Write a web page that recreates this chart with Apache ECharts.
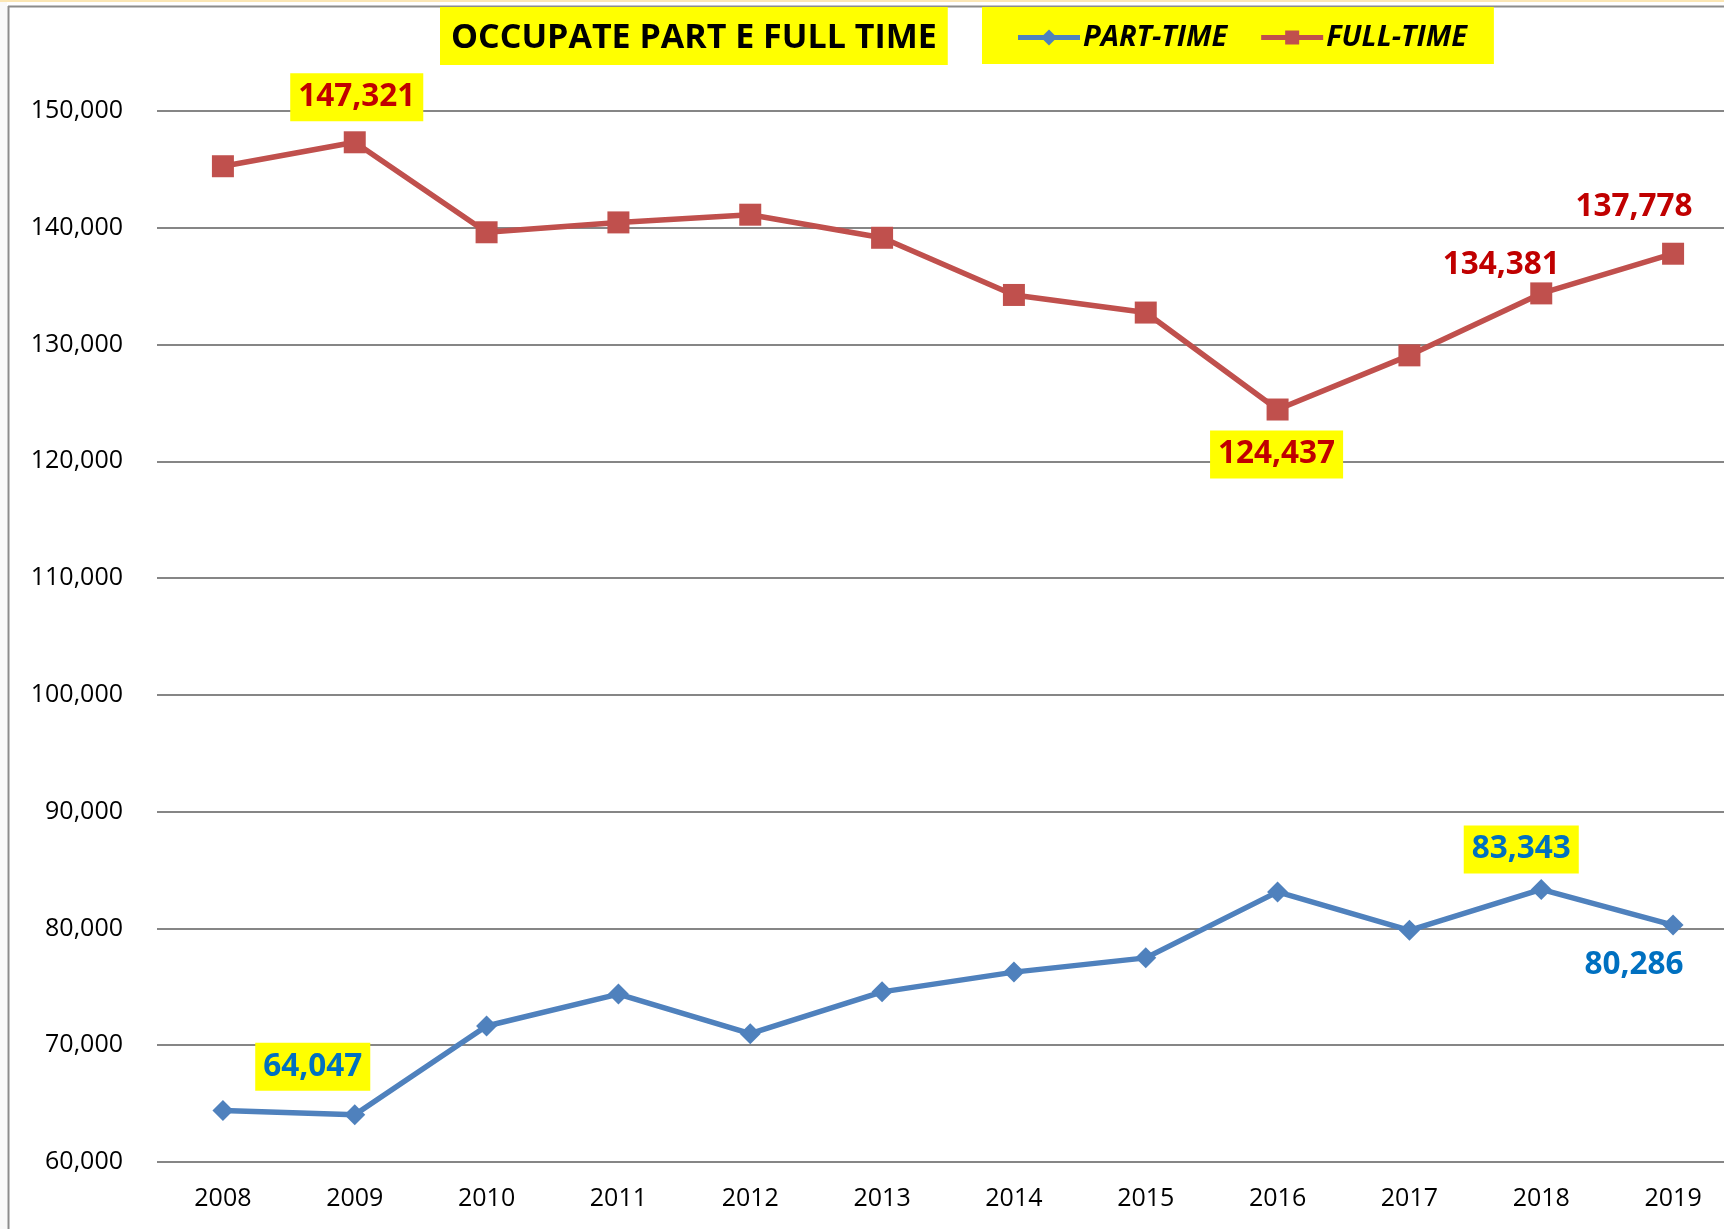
<!DOCTYPE html>
<html>
<head>
<meta charset="utf-8">
<title>Occupate part e full time</title>
<script src="https://cdn.jsdelivr.net/npm/echarts@6/dist/echarts.min.js"></script>
<style>
  html, body { margin: 0; padding: 0; background: #ffffff; }
  #chart { width: 1724px; height: 1229px; }
</style>
</head>
<body>
<div id="chart"></div>
<script>
// Years on the category axis
const years = ['2008', '2009', '2010', '2011', '2012', '2013', '2014', '2015', '2016', '2017', '2018', '2019'];

// Employed people, part-time and full-time
const partTime = [64400, 64047, 71650, 74380, 70990, 74570, 76260, 77480, 83130, 79840, 83343, 80286];
const fullTime = [145270, 147321, 139615, 140460, 141120, 139144, 134247, 132740, 124437, 129075, 134381, 137778];

// Y axis range and step
const yMin = 60000;
const yMax = 150000;
const yStep = 10000;

const FONT = '"Open Sans", "Noto Sans", sans-serif';
const fmt = v => Math.round(v).toLocaleString('en-US');

// Legend keys: a thick line with the series marker in the middle
const ICON_PART = 'path://M0 5.5L62 5.5L62 10.5L0 10.5Z M31 0L39 8L31 16L23 8Z';
const ICON_FULL = 'path://M0 5.5L62 5.5L62 10.5L0 10.5Z M24 1L38 1L38 15L24 15Z';

// Which points carry a value label, and how each label is placed
const ptLabels = {
  1: { offset: [-42, -48], boxed: true },
  10: { offset: [-20, -40], boxed: true },
  11: { offset: [-39, 40], boxed: false }
};
const ftLabels = {
  1: { offset: [2, -45], boxed: true },
  8: { offset: [-1, 45], boxed: true },
  10: { offset: [-40, -28], boxed: false },
  11: { offset: [-39, -47], boxed: false }
};

function buildData(values, labels, color) {
  return values.map((v, i) => {
    const cfg = labels[i];
    if (!cfg) return v;
    return {
      value: v,
      label: {
        show: true,
        position: 'inside',
        offset: cfg.offset,
        formatter: p => fmt(p.value),
        color: color,
        fontFamily: FONT,
        fontWeight: 'bold',
        fontSize: 31.5,
        lineHeight: 33,
        backgroundColor: cfg.boxed ? '#FFFF00' : 'transparent',
        padding: cfg.boxed ? [8, 8, 7, 8] : 0
      }
    };
  });
}

const chart = echarts.init(document.getElementById('chart'), null, { renderer: 'canvas' });

chart.setOption({
  backgroundColor: '#ffffff',
  animation: false,
  title: {
    text: 'OCCUPATE PART E FULL TIME',
    left: 440,
    top: 7,
    backgroundColor: '#FFFF00',
    padding: [11, 11, 6, 11],
    textStyle: {
      fontFamily: FONT,
      fontWeight: 'bold',
      fontSize: 34,
      lineHeight: 41,
      color: '#000000'
    }
  },
  legend: {
    data: [
      { name: 'PART-TIME', icon: ICON_PART, itemStyle: { color: '#4F81BD' } },
      { name: 'FULL-TIME', icon: ICON_FULL, itemStyle: { color: '#C0504D' } }
    ],
    left: 982,
    top: 7,
    backgroundColor: '#FFFF00',
    padding: [16, 27, 12, 36],
    itemWidth: 62,
    itemHeight: 16,
    itemGap: 34,
    textStyle: {
      fontFamily: FONT,
      fontWeight: 'bold',
      fontStyle: 'italic',
      fontSize: 29,
      lineHeight: 29,
      color: '#000000',
      padding: [0, 0, 0, -2]
    }
  },
  grid: {
    left: 157,
    top: 111,
    width: 1582,
    height: 1051,
    containLabel: false,
    outerBoundsMode: 'none'
  },
  xAxis: {
    type: 'category',
    data: years,
    boundaryGap: true,
    axisLine: { show: false },
    axisTick: { show: false },
    axisLabel: {
      color: '#000000',
      fontFamily: FONT,
      fontSize: 25,
      margin: 24
    },
    splitLine: { show: false }
  },
  yAxis: {
    type: 'value',
    min: yMin,
    max: yMax,
    interval: yStep,
    axisLine: { show: false },
    axisTick: { show: false },
    axisLabel: {
      color: '#000000',
      fontFamily: FONT,
      fontSize: 25,
      margin: 34,
      formatter: v => fmt(v)
    },
    splitLine: { lineStyle: { color: '#868686', width: 2 } }
  },
  series: [
    {
      name: 'PART-TIME',
      type: 'line',
      data: buildData(partTime, ptLabels, '#0070C0'),
      symbol: 'diamond',
      symbolSize: [21, 21],
      lineStyle: { color: '#4F81BD', width: 5.5 },
      itemStyle: { color: '#4F81BD' },
      z: 3
    },
    {
      name: 'FULL-TIME',
      type: 'line',
      data: buildData(fullTime, ftLabels, '#C00000'),
      symbol: 'rect',
      symbolSize: 22,
      lineStyle: { color: '#C0504D', width: 5.5 },
      itemStyle: { color: '#C0504D' },
      z: 3
    }
  ],
  graphic: [
    // chart-area frame: pale strip on top, light margin at left, grey border lines
    { type: 'rect', shape: { x: 0, y: 0, width: 1724, height: 2 }, style: { fill: '#FBE6B4' }, z: -1 },
    { type: 'rect', shape: { x: 0, y: 2, width: 7, height: 1227 }, style: { fill: '#F9F9F9' }, z: -1 },
    { type: 'line', shape: { x1: 8, y1: 6.5, x2: 1724, y2: 6.5 }, style: { stroke: '#8C8C8C', lineWidth: 2 }, z: 0 },
    { type: 'line', shape: { x1: 8.5, y1: 6, x2: 8.5, y2: 1229 }, style: { stroke: '#8C8C8C', lineWidth: 2 }, z: 0 }
  ]
});
</script>
</body>
</html>
